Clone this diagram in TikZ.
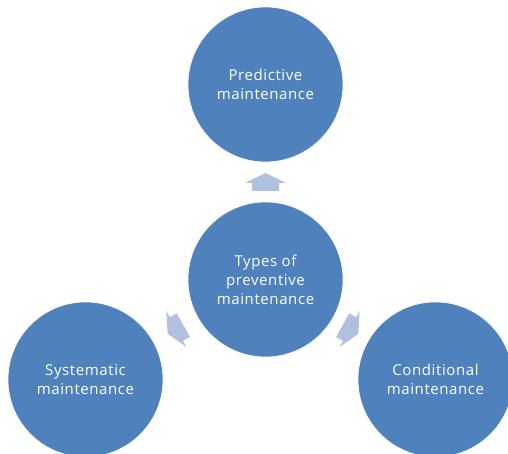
\documentclass[tikz,border=0pt]{standalone}
\usepackage{fontspec}
\setmainfont[LetterSpace=4]{Open Sans}
\usetikzlibrary{calc}
\definecolor{circblue}{RGB}{79,129,189}
\definecolor{arrowblue}{RGB}{175,193,222}
\tikzset{
  bubble/.style={circle, minimum size=155pt, inner sep=0pt, fill=circblue,
    draw=white, line width=0.6pt, text=white, align=center,
    font=\fontsize{15}{19}\selectfont},
  radarrow/.pic={
    \fill[arrowblue] (-9,-13.5) -- (-1,-13.5) -- (-1,-20.5) -- (9,0)
      -- (-1,20.5) -- (-1,13.5) -- (-9,13.5) -- cycle;
  }
}
\begin{document}
\begin{tikzpicture}[x=1pt,y=1pt]
  \useasboundingbox (0,0) rectangle (508,454);
  % four circles: the hub and its three kinds
  \node[bubble] (core)  at (265.5,174.5) {Types of\\preventive\\maintenance};
  \node[bubble] (pred)  at (265.5,369.5) {Predictive\\maintenance};
  \node[bubble] (syst)  at (85.5,74.5)   {Systematic\\maintenance};
  \node[bubble] (cond)  at (435.5,74.5)  {Conditional\\maintenance};
  % outward block arrows, halfway between hub and each circle
  \pic[rotate=90]     at ($(core)!0.5!(pred)$) {radarrow};
  \pic[rotate=209.05] at ($(core)!0.5!(syst)$) {radarrow};
  \pic[rotate=-29.05] at ($(core)!0.5!(cond)$) {radarrow};
\end{tikzpicture}
\end{document}
